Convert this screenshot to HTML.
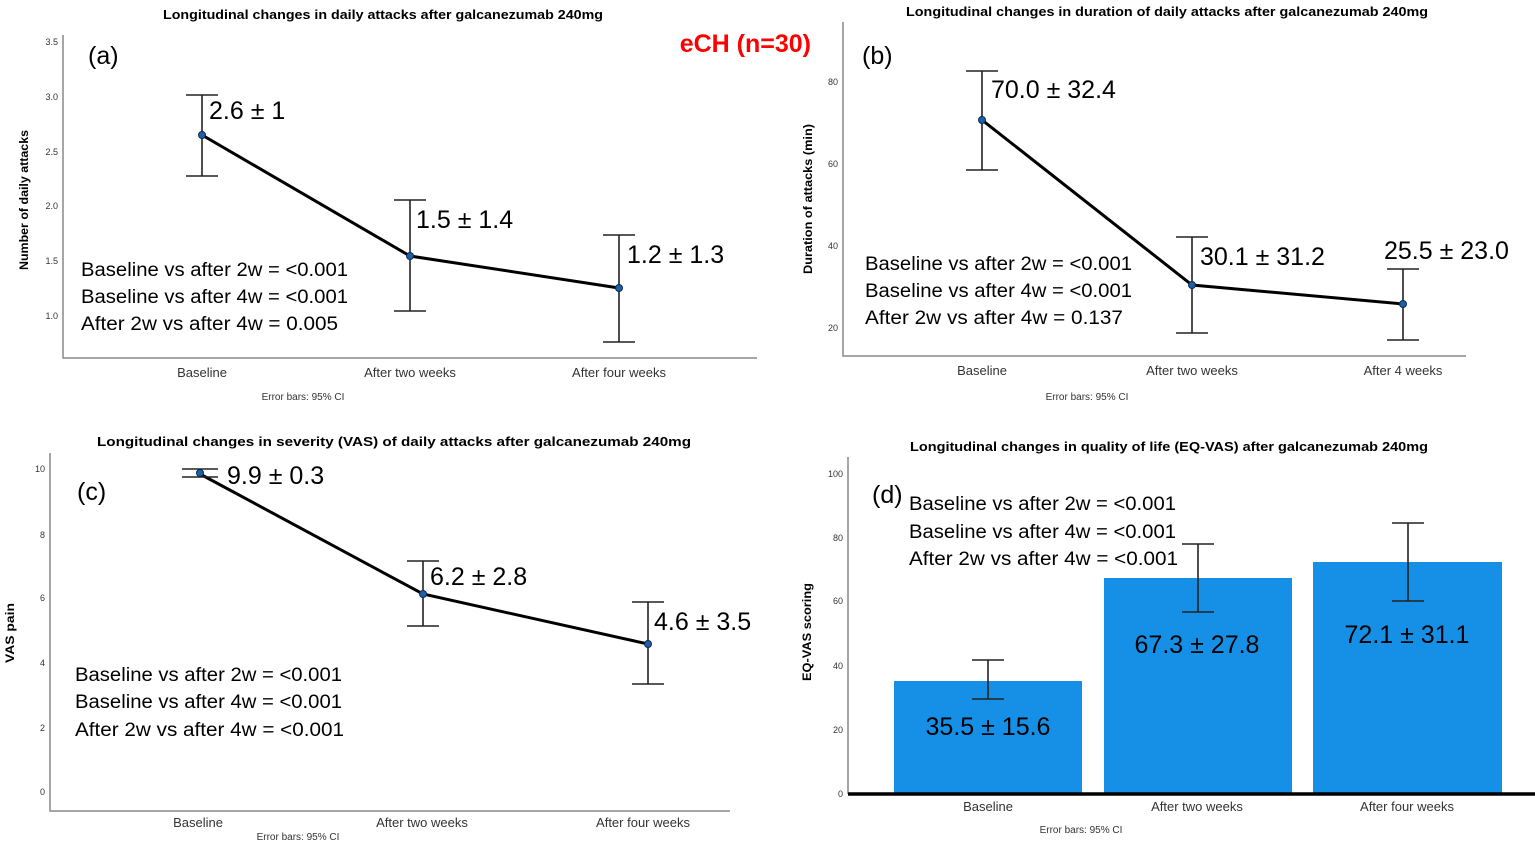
<!DOCTYPE html>
<html><head><meta charset="utf-8"><style>
html,body{margin:0;padding:0;background:#fff;}
svg{display:block;}
.t{font-family:"Liberation Sans",sans-serif;font-weight:bold;font-size:12.5px;fill:#000;}
.tk{font-family:"Liberation Sans",sans-serif;font-size:9px;fill:#333;}
.xl{font-family:"Liberation Sans Narrow","Liberation Sans",sans-serif;font-size:13px;fill:#333;}
.eb{font-family:"Liberation Sans Narrow","Liberation Sans",sans-serif;font-size:10px;fill:#333;}
.yl{font-family:"Liberation Sans",sans-serif;font-weight:bold;font-size:12px;fill:#000;}
.an{font-family:"Liberation Sans Narrow","Liberation Sans",sans-serif;font-size:19px;fill:#000;}
.v{font-family:"Liberation Sans Narrow","Liberation Sans",sans-serif;font-size:25px;fill:#000;}
.p{font-family:"Liberation Sans Narrow","Liberation Sans",sans-serif;font-size:25px;fill:#000;}
.ax{stroke:#888;stroke-width:1.5;fill:none;}
.ln{stroke:#000;stroke-width:3;fill:none;}
.er{stroke:#222;stroke-width:1.6;fill:none;}
.pt{fill:#1f5fa8;stroke:#0b2a50;stroke-width:1;}
</style></head><body>
<svg width="1535" height="847" viewBox="0 0 1535 847" xmlns="http://www.w3.org/2000/svg">
<!-- Panel a -->
<text class="t" x="163" y="19" textLength="440" lengthAdjust="spacingAndGlyphs">Longitudinal changes in daily attacks after galcanezumab 240mg</text>
<path class="ax" d="M63,35 V358 H757"/>
<g class="tk" text-anchor="end">
<text x="58" y="45">3.5</text><text x="58" y="100">3.0</text><text x="58" y="155">2.5</text>
<text x="58" y="209">2.0</text><text x="58" y="264">1.5</text><text x="58" y="319">1.0</text></g>
<text class="yl" transform="translate(28,270) rotate(-90)" textLength="140" lengthAdjust="spacingAndGlyphs">Number of daily attacks</text>
<text class="p" x="88" y="64">(a)</text>
<polyline class="ln" points="202,135 410,256 619,288"/>
<path class="er" d="M202,95V176M186,95H218M186,176H218 M410,200V311M394,200H426M394,311H426 M619,235V342M603,235H635M603,342H635"/>
<circle class="pt" cx="202" cy="135" r="3.5"/><circle class="pt" cx="410" cy="256" r="3.5"/><circle class="pt" cx="619" cy="288" r="3.5"/>
<text class="v" x="209" y="119">2.6 ± 1</text>
<text class="v" x="416" y="228">1.5 ± 1.4</text>
<text class="v" x="627" y="263">1.2 ± 1.3</text>
<text class="an" x="81" y="276" textLength="267" lengthAdjust="spacingAndGlyphs">Baseline vs after 2w = &lt;0.001</text>
<text class="an" x="81" y="303" textLength="267" lengthAdjust="spacingAndGlyphs">Baseline vs after 4w = &lt;0.001</text>
<text class="an" x="81" y="330" textLength="257" lengthAdjust="spacingAndGlyphs">After 2w vs after 4w = 0.005</text>
<g class="xl" text-anchor="middle"><text x="202" y="377">Baseline</text><text x="410" y="377">After two weeks</text><text x="619" y="377">After four weeks</text></g>
<text class="eb" x="303" y="400" text-anchor="middle">Error bars: 95% CI</text>
<text x="811" y="52" text-anchor="end" style="font-family:'Liberation Sans Narrow','Liberation Sans',sans-serif;font-weight:bold;font-size:25px;fill:#f00">eCH (n=30)</text>

<!-- Panel b -->
<text class="t" x="906" y="16" textLength="522" lengthAdjust="spacingAndGlyphs">Longitudinal changes in duration of daily attacks after galcanezumab 240mg</text>
<path class="ax" d="M843,22 V356 H1466"/>
<g class="tk" text-anchor="end">
<text x="838" y="85">80</text><text x="838" y="167">60</text><text x="838" y="249">40</text><text x="838" y="331">20</text></g>
<text class="yl" transform="translate(812,274) rotate(-90)" textLength="150" lengthAdjust="spacingAndGlyphs">Duration of attacks (min)</text>
<text class="p" x="862" y="64">(b)</text>
<polyline class="ln" points="982,120 1192,285 1403,304"/>
<path class="er" d="M982,71V170M966,71H998M966,170H998 M1192,237V333M1176,237H1208M1176,333H1208 M1403,269V340M1387,269H1419M1387,340H1419"/>
<circle class="pt" cx="982" cy="120" r="3.5"/><circle class="pt" cx="1192" cy="285" r="3.5"/><circle class="pt" cx="1403" cy="304" r="3.5"/>
<text class="v" x="991" y="98">70.0 ± 32.4</text>
<text class="v" x="1200" y="265">30.1 ± 31.2</text>
<text class="v" x="1384" y="259">25.5 ± 23.0</text>
<text class="an" x="865" y="270" textLength="267" lengthAdjust="spacingAndGlyphs">Baseline vs after 2w = &lt;0.001</text>
<text class="an" x="865" y="297" textLength="267" lengthAdjust="spacingAndGlyphs">Baseline vs after 4w = &lt;0.001</text>
<text class="an" x="865" y="324" textLength="258" lengthAdjust="spacingAndGlyphs">After 2w vs after 4w = 0.137</text>
<g class="xl" text-anchor="middle"><text x="982" y="375">Baseline</text><text x="1192" y="375">After two weeks</text><text x="1403" y="375">After 4 weeks</text></g>
<text class="eb" x="1087" y="400" text-anchor="middle">Error bars: 95% CI</text>

<!-- Panel c -->
<text class="t" x="97" y="446" textLength="594" lengthAdjust="spacingAndGlyphs">Longitudinal changes in severity (VAS) of daily attacks after galcanezumab 240mg</text>
<path class="ax" d="M50,453 V811 H730"/>
<g class="tk" text-anchor="end">
<text x="45" y="472">10</text><text x="45" y="538">8</text><text x="45" y="601">6</text>
<text x="45" y="666">4</text><text x="45" y="731">2</text><text x="45" y="795">0</text></g>
<text class="yl" transform="translate(14,663) rotate(-90)" textLength="60" lengthAdjust="spacingAndGlyphs">VAS pain</text>
<text class="p" x="77" y="500">(c)</text>
<polyline class="ln" points="200,474 423,594 648,644"/>
<path class="er" d="M182,469H218M182,477H218 M423,561V626M407,561H439M407,626H439 M648,602V684M632,602H664M632,684H664"/>
<circle class="pt" cx="200" cy="473" r="3.5"/><circle class="pt" cx="423" cy="594" r="3.5"/><circle class="pt" cx="648" cy="644" r="3.5"/>
<text class="v" x="227" y="484">9.9 ± 0.3</text>
<text class="v" x="430" y="585">6.2 ± 2.8</text>
<text class="v" x="654" y="630">4.6 ± 3.5</text>
<text class="an" x="75" y="681" textLength="267" lengthAdjust="spacingAndGlyphs">Baseline vs after 2w = &lt;0.001</text>
<text class="an" x="75" y="708" textLength="267" lengthAdjust="spacingAndGlyphs">Baseline vs after 4w = &lt;0.001</text>
<text class="an" x="75" y="736" textLength="269" lengthAdjust="spacingAndGlyphs">After 2w vs after 4w = &lt;0.001</text>
<g class="xl" text-anchor="middle"><text x="198" y="827">Baseline</text><text x="422" y="827">After two weeks</text><text x="643" y="827">After four weeks</text></g>
<text class="eb" x="298" y="840" text-anchor="middle">Error bars: 95% CI</text>

<!-- Panel d -->
<text class="t" x="910" y="451" textLength="518" lengthAdjust="spacingAndGlyphs">Longitudinal changes in quality of life (EQ-VAS) after galcanezumab 240mg</text>
<path class="ax" d="M848,457 V794"/>
<g class="tk" text-anchor="end">
<text x="843" y="477">100</text><text x="843" y="541">80</text><text x="843" y="604">60</text>
<text x="843" y="669">40</text><text x="843" y="733">20</text><text x="843" y="797">0</text></g>
<text class="yl" transform="translate(811,681) rotate(-90)" textLength="98" lengthAdjust="spacingAndGlyphs">EQ-VAS scoring</text>
<rect x="894" y="681" width="188" height="113" fill="#1590e6"/>
<rect x="1104" y="578" width="188" height="216" fill="#1590e6"/>
<rect x="1313" y="562" width="189" height="232" fill="#1590e6"/>
<path d="M848,794H1535" stroke="#000" stroke-width="3.5"/>
<path class="er" d="M988,660V699M972,660H1004M972,699H1004 M1198,544V612M1182,544H1214M1182,612H1214 M1408,523V601M1392,523H1424M1392,601H1424"/>
<text class="p" x="872" y="503">(d)</text>
<text class="an" x="909" y="510" textLength="267" lengthAdjust="spacingAndGlyphs">Baseline vs after 2w = &lt;0.001</text>
<text class="an" x="909" y="538" textLength="267" lengthAdjust="spacingAndGlyphs">Baseline vs after 4w = &lt;0.001</text>
<text class="an" x="909" y="565" textLength="269" lengthAdjust="spacingAndGlyphs">After 2w vs after 4w = &lt;0.001</text>
<g class="v" text-anchor="middle"><text x="988" y="735">35.5 ± 15.6</text><text x="1197" y="653">67.3 ± 27.8</text><text x="1407" y="643">72.1 ± 31.1</text></g>
<g class="xl" text-anchor="middle"><text x="988" y="811">Baseline</text><text x="1197" y="811">After two weeks</text><text x="1407" y="811">After four weeks</text></g>
<text class="eb" x="1081" y="833" text-anchor="middle">Error bars: 95% CI</text>
</svg>
</body></html>
